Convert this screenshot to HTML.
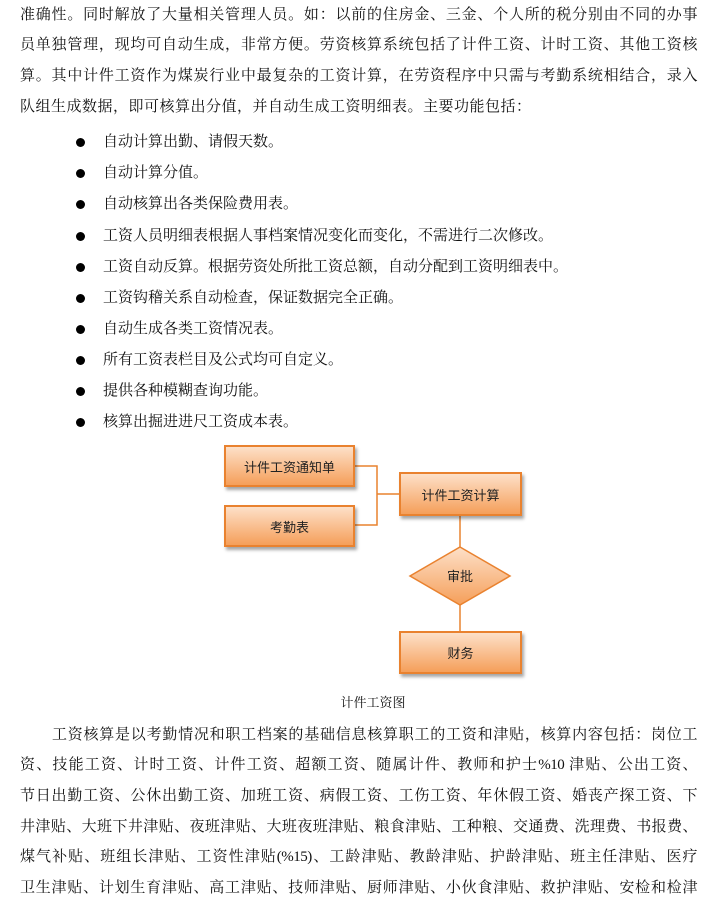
<!DOCTYPE html>
<html><head><meta charset="utf-8"><style>
body{margin:0;width:710px;height:909px;background:#fff;position:relative;overflow:hidden;font-family:"Liberation Serif","Noto Serif CJK SC",serif;color:#111;font-size:15px}
.l{position:absolute;left:20px;width:677px;line-height:20px;height:20px;white-space:nowrap;text-align:justify;text-align-last:justify;letter-spacing:-0.5px}
.b{position:absolute;left:103px;line-height:20px;white-space:nowrap}
.d{position:absolute;left:76px;width:9px;height:9px;border-radius:50%;background:#000}
.box{position:absolute;box-sizing:border-box;border:2px solid #e9822f;background:linear-gradient(#fde0c8,#f59f5a);box-shadow:2px 3px 3px rgba(0,0,0,.35);display:flex;align-items:center;justify-content:center;font-family:"Liberation Sans","Noto Sans CJK SC",sans-serif;font-size:13px;color:#222}
</style></head><body>
<div class="l" style="top:5px">准确性。同时解放了大量相关管理人员。如：以前的住房金、三金、个人所的税分别由不同的办事</div>
<div class="l" style="top:35px">员单独管理，现均可自动生成，非常方便。劳资核算系统包括了计件工资、计时工资、其他工资核</div>
<div class="l" style="top:66px">算。其中计件工资作为煤炭行业中最复杂的工资计算，在劳资程序中只需与考勤系统相结合，录入</div>
<div class="l" style="top:97px;width:auto;text-align-last:auto;letter-spacing:0.5px">队组生成数据，即可核算出分值，并自动生成工资明细表。主要功能包括：</div>

<div class="d" style="top:138px"></div><div class="b" style="top:132px">自动计算出勤、请假天数。</div>
<div class="d" style="top:169px"></div><div class="b" style="top:163px">自动计算分值。</div>
<div class="d" style="top:200px"></div><div class="b" style="top:194px">自动核算出各类保险费用表。</div>
<div class="d" style="top:232px"></div><div class="b" style="top:226px">工资人员明细表根据人事档案情况变化而变化，不需进行二次修改。</div>
<div class="d" style="top:263px"></div><div class="b" style="top:257px">工资自动反算。根据劳资处所批工资总额，自动分配到工资明细表中。</div>
<div class="d" style="top:294px"></div><div class="b" style="top:288px">工资钩稽关系自动检查，保证数据完全正确。</div>
<div class="d" style="top:325px"></div><div class="b" style="top:319px">自动生成各类工资情况表。</div>
<div class="d" style="top:356px"></div><div class="b" style="top:350px">所有工资表栏目及公式均可自定义。</div>
<div class="d" style="top:387px"></div><div class="b" style="top:381px">提供各种模糊查询功能。</div>
<div class="d" style="top:418px"></div><div class="b" style="top:412px">核算出掘进进尺工资成本表。</div>

<svg style="position:absolute;left:0;top:0" width="710" height="909">
<g stroke="#e9822f" stroke-width="1.5" fill="none">
<polyline points="354,466 377,466 377,525 354,525"/>
<line x1="377" y1="494" x2="399" y2="494"/>
<line x1="460" y1="515" x2="460" y2="547"/>
<line x1="460" y1="605" x2="460" y2="631"/>
</g>
<defs><linearGradient id="g" x1="0" y1="0" x2="0" y2="1"><stop offset="0" stop-color="#fde0c8"/><stop offset="1" stop-color="#f59f5a"/></linearGradient></defs>
<polygon points="460,547 510,576 460,605 410,576" fill="url(#g)" stroke="#e9822f" stroke-width="1.5"/>
<text x="460" y="581" text-anchor="middle" font-family="Liberation Sans,Noto Sans CJK SC,sans-serif" font-size="13" fill="#222">审批</text>
</svg>
<div class="box" style="left:224px;top:445px;width:131px;height:42px">计件工资通知单</div>
<div class="box" style="left:224px;top:505px;width:131px;height:42px">考勤表</div>
<div class="box" style="left:399px;top:472px;width:123px;height:44px">计件工资计算</div>
<div class="box" style="left:399px;top:631px;width:123px;height:43px">财务</div>
<div style="position:absolute;left:0;width:746px;text-align:center;top:693px;font-size:13px;line-height:20px">计件工资图</div>

<div class="l" style="top:725px;left:52px;width:645px">工资核算是以考勤情况和职工档案的基础信息核算职工的工资和津贴，核算内容包括：岗位工</div>
<div class="l" style="top:755px">资、技能工资、计时工资、计件工资、超额工资、随属计件、教师和护士%10 津贴、公出工资、</div>
<div class="l" style="top:786px">节日出勤工资、公休出勤工资、加班工资、病假工资、工伤工资、年休假工资、婚丧产探工资、下</div>
<div class="l" style="top:817px">井津贴、大班下井津贴、夜班津贴、大班夜班津贴、粮食津贴、工种粮、交通费、洗理费、书报费、</div>
<div class="l" style="top:847px">煤气补贴、班组长津贴、工资性津贴(%15)、工龄津贴、教龄津贴、护龄津贴、班主任津贴、医疗</div>
<div class="l" style="top:878px">卫生津贴、计划生育津贴、高工津贴、技师津贴、厨师津贴、小伙食津贴、救护津贴、安检和检津</div>
</body></html>
